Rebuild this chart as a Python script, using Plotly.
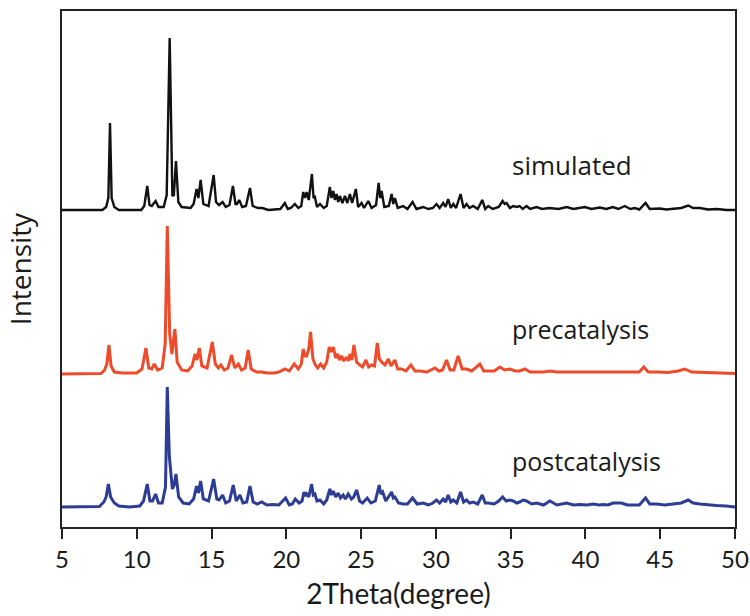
import plotly.graph_objects as go

# ---------------- data ----------------
# 2Theta positions (degree) and intensities (a.u., above each pattern's own baseline)
sim_x = [5, 7.7, 7.95, 8.1, 8.21, 8.32, 8.5, 8.8, 10.3, 10.5, 10.7, 10.85, 11.0, 11.26, 11.45, 11.8,
         12.0, 12.2, 12.38, 12.48, 12.62, 12.78, 13.0, 13.6, 13.8, 14.0, 14.12, 14.27, 14.45, 14.8,
         15.14, 15.3, 15.5, 15.74, 15.95, 16.2, 16.43, 16.6, 16.7, 16.85, 17.05, 17.3, 17.57, 17.75,
         18.1, 18.4, 18.8, 19.6, 19.9, 20.1, 20.3, 20.57, 20.8, 21.0, 21.13, 21.25, 21.36, 21.5,
         21.71, 21.82, 21.91, 22.05, 22.25, 22.5, 22.7, 22.91, 23.02, 23.14, 23.25, 23.36, 23.47,
         23.58, 23.75, 23.92, 24.08, 24.25, 24.4, 24.65, 24.8, 25.03, 25.2, 25.48, 25.7, 26.0, 26.17,
         26.28, 26.37, 26.55, 26.85, 27.04, 27.15, 27.26, 27.45, 27.81, 28.1, 28.44, 28.7, 29.15,
         29.5, 29.8, 30.04, 30.25, 30.49, 30.65, 30.82, 31.0, 31.16, 31.35, 31.65, 31.85, 32.05,
         32.25, 32.49, 32.8, 33.1, 33.3, 33.5, 33.8, 34.2, 34.46, 34.6, 34.73, 34.95, 35.17, 35.4,
         35.6, 35.8, 36.06, 36.3, 36.73, 37.1, 37.6, 38.2, 38.74, 39.2, 39.96, 40.4, 40.96, 41.4,
         41.83, 42.2, 42.63, 43.0, 43.3, 43.6, 44.02, 44.3, 44.97, 45.4, 45.86, 46.4, 46.87, 47.2,
         47.65, 48.2, 48.8, 49.43, 50]
sim_y = [0, 0, 3, 12, 87, 12, 3, 0, 0, 4, 24, 5, 4, 9, 3, 3,
         15, 172, 14, 15, 49, 8, 3, 2, 6, 21, 12, 30, 6, 4,
         35, 8, 5, 8, 3, 5, 24, 6, 6, 10, 3, 4, 22, 4,
         2, 2, 0, 1, 7, 1, 2, 6, 2, 4, 18, 12, 18, 10,
         36, 12, 13, 3, 6, 2, 4, 23, 12, 19, 10, 16, 8,
         14, 7, 14, 7, 16, 7, 21, 3, 7, 2, 9, 2, 5, 27,
         12, 19, 3, 4, 16, 6, 12, 2, 4, 1, 8, 1, 3,
         1, 2, 6, 2, 7, 3, 11, 2, 6, 2, 16, 2, 6,
         2, 4, 1, 10, 1, 4, 1, 3, 9, 6, 7, 2, 4, 3,
         4, 1, 4, 1, 3, 1, 2, 1, 3, 1, 3, 1, 2.5, 1,
         3, 1, 4, 1, 2, 0.5, 7, 1, 1.5, 0.5, 1.5, 2, 4.5, 2,
         2, 0.5, 1, 0, 0]

pre_x = [5, 7.6, 7.85, 8.0, 8.14, 8.28, 8.5, 9.0, 10.0, 10.35, 10.61, 10.8, 11.0, 11.17, 11.4, 11.7,
         11.9, 12.04, 12.2, 12.35, 12.55, 12.7, 13.0, 13.4, 13.7, 13.89, 14.02, 14.18, 14.35, 14.7,
         15.05, 15.25, 15.45, 15.63, 15.85, 16.1, 16.34, 16.55, 16.79, 17.0, 17.25, 17.45, 17.65,
         18.0, 18.35, 18.7, 19.2, 19.5, 19.9, 20.2, 20.53, 20.8, 21.0, 21.13, 21.25, 21.36, 21.5,
         21.62, 21.78, 21.91, 22.1, 22.29, 22.5, 22.7, 22.87, 23.0, 23.14, 23.3, 23.43, 23.56, 23.69,
         23.85, 24.03, 24.15, 24.25, 24.38, 24.52, 24.7, 24.92, 25.1, 25.32, 25.5, 25.7, 25.9, 26.08,
         26.22, 26.37, 26.6, 26.82, 27.0, 27.26, 27.45, 27.71, 28.0, 28.33, 28.6, 28.93, 29.4, 29.93,
         30.2, 30.45, 30.71, 30.95, 31.2, 31.49, 31.75, 32.05, 32.4, 32.94, 33.2, 33.5, 33.9, 34.28,
         34.6, 34.95, 35.3, 35.6, 35.95, 36.3, 36.8, 37.2, 37.62, 38.1, 38.6, 39.2, 39.85, 40.5,
         41.2, 41.85, 42.5, 43.1, 43.6, 43.9, 44.2, 44.8, 45.5, 46.2, 46.64, 47.1, 47.8, 48.5,
         49.3, 50]
pre_y = [0, 0.5, 4, 10, 29, 8, 2, 1, 1, 5, 26, 6, 5, 10, 4, 6,
         30, 148, 40, 20, 45, 12, 4, 3, 8, 20, 14, 26, 8, 6,
         32, 10, 6, 9, 4, 6, 19, 6, 10, 4, 6, 24, 5,
         2, 2, 1, 1, 2, 5, 3, 10, 5, 10, 25, 18, 18, 25,
         42, 15, 10, 6, 10, 6, 12, 27, 22, 27, 16, 20, 14, 18,
         13, 17, 13, 20, 14, 29, 12, 9, 7, 14, 7, 9, 8, 31,
         15, 12, 9, 15, 8, 14, 5, 5, 3, 9, 3, 3, 2, 6,
         3, 4, 14, 4, 4, 18, 5, 5, 3, 10, 3, 3, 3, 7,
         4, 5, 3, 3, 5, 2, 2, 2, 3, 2, 2, 2, 2, 1.5,
         2, 2, 1.5, 2, 2, 7, 2, 2, 1.5, 3, 5, 2, 1.5, 1,
         1, 0.5]

post_x = [5, 7.5, 7.8, 7.95, 8.1, 8.25, 8.5, 8.8, 9.5, 10.2, 10.45, 10.7, 10.88, 11.05, 11.26, 11.45,
          11.7, 11.92, 12.04, 12.18, 12.38, 12.5, 12.62, 12.8, 13.1, 13.5, 13.8, 14.0, 14.12, 14.27,
          14.45, 14.8, 15.14, 15.35, 15.5, 15.74, 15.95, 16.2, 16.45, 16.65, 16.9, 17.1, 17.35, 17.57,
          17.78, 18.05, 18.35, 18.7, 19.1, 19.5, 19.95, 20.2, 20.4, 20.6, 20.85, 21.05, 21.18, 21.28,
          21.36, 21.5, 21.69, 21.8, 21.91, 22.05, 22.25, 22.5, 22.7, 22.91, 23.02, 23.14, 23.3, 23.47,
          23.62, 23.8, 23.95, 24.14, 24.35, 24.5, 24.7, 24.9, 25.1, 25.41, 25.65, 25.95, 26.21, 26.32,
          26.44, 26.65, 27.04, 27.15, 27.26, 27.5, 27.81, 28.1, 28.44, 28.75, 29.15, 29.5, 29.8, 30.04,
          30.25, 30.49, 30.65, 30.82, 31.0, 31.16, 31.4, 31.65, 31.85, 32.05, 32.25, 32.49, 32.8, 33.1,
          33.3, 33.5, 33.9, 34.2, 34.46, 34.7, 34.95, 35.17, 35.4, 35.6, 35.84, 36.06, 36.4, 36.73,
          37.2, 37.62, 38.1, 38.74, 39.2, 39.63, 40.1, 40.52, 40.9, 41.19, 41.5, 41.85, 42.41, 42.8,
          43.19, 43.6, 44.02, 44.3, 44.75, 45.3, 45.86, 46.4, 46.87, 47.2, 47.65, 48.2, 48.76, 49.4, 50]
post_y = [0, 0.5, 5, 10, 23, 10, 4, 1, 0, 1, 6, 23, 6, 6, 13, 4,
          4, 20, 120, 50, 18, 22, 33, 10, 4, 3, 8, 21, 14, 26,
          8, 6, 28, 8, 7, 12, 4, 6, 22, 6, 12, 4, 5, 21,
          5, 3, 5, 2, 2.5, 2, 9, 2, 3, 8, 4, 6, 15, 11,
          13, 10, 23, 12, 13, 6, 7, 3, 7, 18, 12, 16, 10, 14,
          9, 12, 8, 13, 8, 10, 17, 6, 4, 9, 4, 6, 22, 13,
          15, 6, 15, 9, 10, 4, 3, 3, 9, 3, 4, 2, 4, 7,
          4, 8, 5, 12, 5, 7, 4, 15, 5, 7, 4, 5, 3, 12,
          4, 4, 3, 6, 10, 6, 7, 6, 4, 5, 7, 6, 3, 4,
          2, 6, 2, 4, 2, 2.5, 2, 3, 2, 2.5, 2, 4, 4, 2,
          2, 2, 9, 3, 3, 2, 3, 4, 7, 4, 3, 2, 1.5, 1, 0]

series_names = ["simulated", "precatalysis", "postcatalysis"]
series_offsets = [317, 153, 20]          # vertical stacking offsets (a.u.)
series_colors = ["#111111", "#ee4b2b", "#2e3d94"]
series_widths = [2.4, 3, 3]
x_ticks = [5, 10, 15, 20, 25, 30, 35, 40, 45, 50]

# ---------------- figure ----------------
fig = go.Figure()
for name, xs, ys, off, col, w in zip(series_names, [sim_x, pre_x, post_x], [sim_y, pre_y, post_y],
                                     series_offsets, series_colors, series_widths):
    fig.add_trace(go.Scatter(x=xs, y=[v + off for v in ys], mode="lines", name=name,
                             line=dict(color=col, width=w), showlegend=False))

label_y = [362, 198, 66]
label_size = [26, 25, 25]
for name, ly, fs in zip(series_names, label_y, label_size):
    fig.add_annotation(x=34.95, y=ly, xref="x", yref="y", text=name, showarrow=False,
                       xanchor="left", yanchor="middle",
                       font=dict(family="Open Sans", size=fs, color="#1a1a1a"))

fig.update_layout(
    width=750, height=616,
    margin=dict(l=62, r=15, t=11, b=89),
    paper_bgcolor="white", plot_bgcolor="white",
    xaxis=dict(range=[5, 50], tickvals=x_ticks, ticks="outside", ticklen=10, tickwidth=2,
               tickcolor="#222", showline=True, linewidth=2, linecolor="#222", mirror=True,
               showgrid=False, zeroline=False, automargin=False,
               tickfont=dict(family="Lato", size=24, color="#1a1a1a"),
               title=dict(text="2Theta(degree)", standoff=13,
                          font=dict(family="Lato", size=28, color="#1a1a1a"))),
    yaxis=dict(range=[0, 516], showticklabels=False, ticks="", showline=True, linewidth=2,
               linecolor="#222", mirror=True, showgrid=False, zeroline=False, automargin=False,
               title=dict(text="Intensity", standoff=20,
                          font=dict(family="Open Sans", size=28, color="#1a1a1a"))),
)

fig.write_html("out.html")
